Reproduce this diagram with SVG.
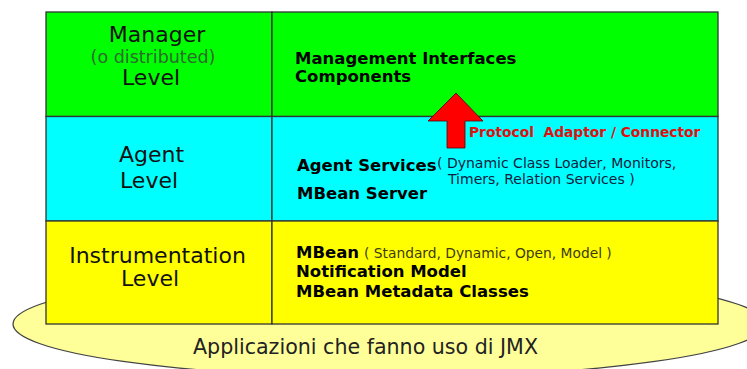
<svg xmlns="http://www.w3.org/2000/svg" width="747" height="369" viewBox="0 0 747 369">
  <style>
    .lvl { font-family: "DejaVu Sans", Verdana, sans-serif; font-size: 22px; fill: #111; }
    .sub { font-family: "DejaVu Sans", Verdana, sans-serif; font-size: 17.5px; fill: #2e6b2e; }
    .item { font-family: "DejaVu Sans", Verdana, sans-serif; font-weight: bold; font-size: 16.5px; fill: #000; }
    .note { font-family: "DejaVu Sans", Verdana, sans-serif; font-size: 14px; }
    .proto { font-family: "DejaVu Sans", Verdana, sans-serif; font-weight: bold; font-size: 13.8px; fill: #e01010; }
    .base { font-family: "DejaVu Sans", Verdana, sans-serif; font-size: 20.6px; fill: #222; }
    .cell { stroke: #333; stroke-width: 1.3; }
  </style>

  <!-- application base -->
  <g id="applications">
    <ellipse cx="389" cy="324" rx="376" ry="53" fill="#ffff99" stroke="#444" stroke-width="1.3"/>
    <text class="base" x="193" y="354">Applicazioni che fanno uso di JMX</text>
  </g>

  <!-- manager level -->
  <g id="manager-level">
    <rect class="cell" x="46" y="12" width="226" height="104.5" fill="#00ff00"/>
    <rect class="cell" x="272" y="12" width="446" height="104.5" fill="#00ff00"/>
    <text class="lvl" x="157" y="42" text-anchor="middle">Manager</text>
    <text class="sub" x="153" y="63" text-anchor="middle">(o distributed)</text>
    <text class="lvl" x="122" y="85">Level</text>
    <text class="item" x="295" y="64">Management Interfaces</text>
    <text class="item" x="295" y="82">Components</text>
  </g>

  <!-- agent level -->
  <g id="agent-level">
    <rect class="cell" x="46" y="116.5" width="226" height="104.5" fill="#00ffff"/>
    <rect class="cell" x="272" y="116.5" width="446" height="104.5" fill="#00ffff"/>
    <text class="lvl" x="119" y="162">Agent</text>
    <text class="lvl" x="120" y="188">Level</text>
    <text class="item" x="297" y="171">Agent Services</text>
    <text class="note" x="437" y="168" fill="#102040">( Dynamic Class Loader, Monitors,</text>
    <text class="note" x="448" y="184" fill="#102040">Timers, Relation Services )</text>
    <text class="item" x="297" y="199">MBean Server</text>
  </g>

  <!-- instrumentation level -->
  <g id="instrumentation-level">
    <rect class="cell" x="46" y="221" width="226" height="103" fill="#ffff00"/>
    <rect class="cell" x="272" y="221" width="446" height="103" fill="#ffff00"/>
    <text class="lvl" x="157.5" y="263" text-anchor="middle">Instrumentation</text>
    <text class="lvl" x="121" y="286">Level</text>
    <text class="item" x="296" y="258">MBean</text>
    <text class="note" x="364" y="258" fill="#403a10" style="font-size:13.8px">( Standard, Dynamic, Open, Model )</text>
    <text class="item" x="296" y="277">Notification Model</text>
    <text class="item" x="296" y="297">MBean Metadata Classes</text>
  </g>

  <!-- protocol adaptor / connector link -->
  <g id="connectors">
    <polygon points="456,93 483,121 465,121 465,148 447,148 447,121 428,121" fill="#ff0000" stroke="#550000" stroke-width="0.8" stroke-linejoin="miter"/>
    <text class="proto" x="469" y="137" xml:space="preserve">Protocol  Adaptor / Connector</text>
  </g>
</svg>
